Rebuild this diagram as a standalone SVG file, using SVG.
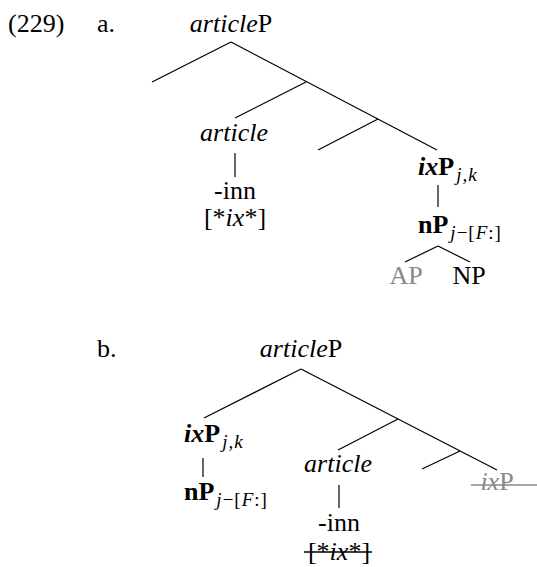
<svg xmlns="http://www.w3.org/2000/svg" width="537" height="567" viewBox="0 0 537 567">
<style>
text{font-family:"Liberation Serif","Times New Roman",serif;font-size:26px;fill:#000}
.it{font-style:italic}
.b{font-weight:bold}
.sub{font-size:19px;font-style:italic;font-weight:normal;letter-spacing:1px}
.rm{font-style:normal}
.gray{fill:#888}
line{stroke:#000;stroke-width:1.2;fill:none}
.strike{stroke-width:1.6}
</style>
<rect width="537" height="567" fill="#fff"/>
<g id="labels">
<text x="8" y="32">(229)</text>
<text x="97" y="32">a.</text>
<text x="97" y="357">b.</text>
</g>
<g id="connectors">
<line x1="231" y1="42" x2="152" y2="82"/>
<line x1="231" y1="42" x2="437" y2="150"/>
<line x1="306" y1="82" x2="235" y2="118"/>
<line x1="378" y1="119" x2="318" y2="150"/>
<line x1="235" y1="153" x2="235" y2="177"/>
<line x1="438" y1="185" x2="438" y2="207"/>
<line x1="438" y1="246" x2="405" y2="262"/>
<line x1="438" y1="246" x2="470" y2="262"/>
<line x1="301" y1="369" x2="204" y2="418"/>
<line x1="301" y1="369" x2="497" y2="470"/>
<line x1="398" y1="419" x2="338" y2="450"/>
<line x1="460" y1="451" x2="422" y2="469"/>
<line x1="203" y1="458" x2="203" y2="477"/>
<line x1="339" y1="485" x2="339" y2="508"/>
</g>
<g id="a-root"><text x="231" y="32" text-anchor="middle"><tspan class="it">article</tspan>P</text></g>
<g id="a-article">
<text x="234" y="141" text-anchor="middle" class="it">article</text>
<text x="235" y="199" text-anchor="middle">-inn</text>
<text x="235" y="226" text-anchor="middle">[*<tspan class="it">ix</tspan>*]</text>
</g>
<g id="a-ixP"><text x="418" y="175" class="b"><tspan class="it">ix</tspan>P<tspan class="sub" dy="6" dx="2">j,k</tspan></text></g>
<g id="a-nP"><text x="418" y="233" class="b">nP<tspan class="sub" dy="6" dx="2">j<tspan class="rm">−[</tspan>F<tspan class="rm">:]</tspan></tspan></text></g>
<g id="a-AP"><text x="406" y="284" text-anchor="middle" class="gray">AP</text></g>
<g id="a-NP"><text x="469" y="284" text-anchor="middle">NP</text></g>
<g id="b-root"><text x="301" y="357" text-anchor="middle"><tspan class="it">article</tspan>P</text></g>
<g id="b-ixP"><text x="184" y="442" class="b"><tspan class="it">ix</tspan>P<tspan class="sub" dy="6" dx="2">j,k</tspan></text></g>
<g id="b-nP"><text x="184" y="500" class="b">nP<tspan class="sub" dy="6" dx="2">j<tspan class="rm">−[</tspan>F<tspan class="rm">:]</tspan></tspan></text></g>
<g id="b-article">
<text x="338" y="472" text-anchor="middle" class="it">article</text>
<text x="339" y="531" text-anchor="middle">-inn</text>
<text x="339" y="560" text-anchor="middle">[*<tspan class="it">ix</tspan>*]</text>
<line class="strike" x1="304" y1="552" x2="372" y2="552"/>
</g>
<g id="b-ixP-trace">
<text x="497" y="490" text-anchor="middle" class="gray"><tspan class="it">ix</tspan>P</text>
<line class="strike" x1="471" y1="485" x2="537" y2="485" style="stroke:#888"/>
</g>
</svg>
